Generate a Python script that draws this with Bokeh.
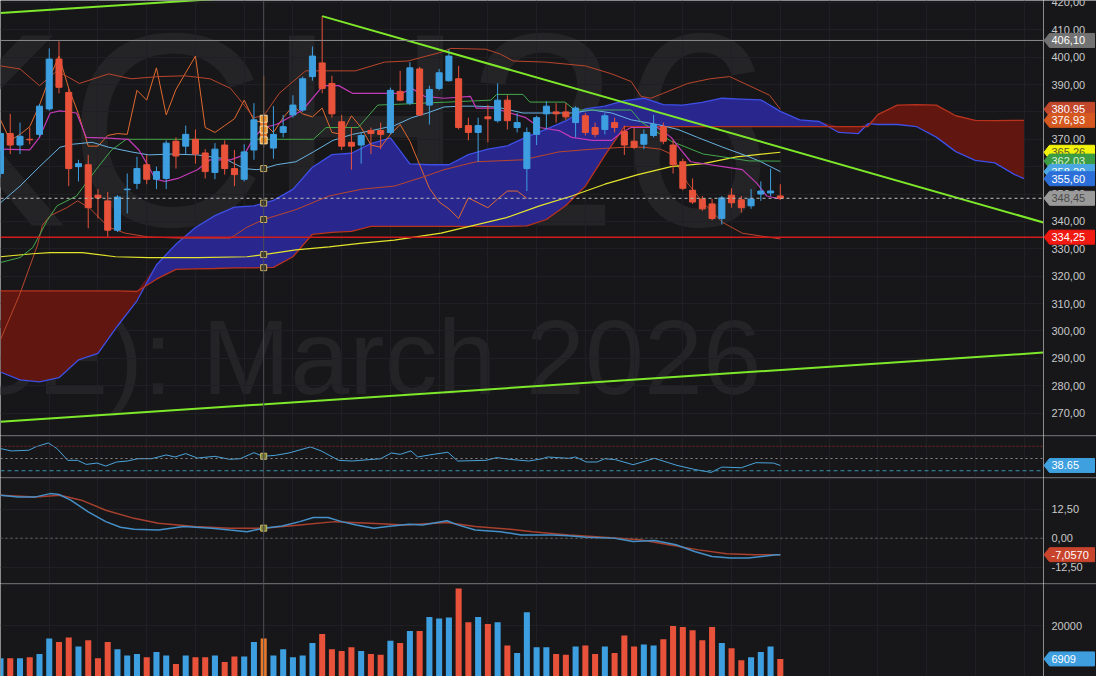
import numpy as np
from bokeh.plotting import figure
from bokeh.layouts import column, row
from bokeh.models import Range1d, FixedTicker, Span
from bokeh.core.properties import value
from bokeh.embed import file_html
from bokeh.resources import INLINE

# ---------------- candles (index 0..80) ----------------
OPEN = [357.5, 372.1, 367.9, 370.0, 371.8, 381.1, 399.3, 387.1, 360.0, 360.7,
        349.6, 347.5, 336.8, 351.6, 353.9, 360.7, 355.4, 355.7, 369.3, 367.5,
        370.0, 365.0, 357.9, 367.9, 359.3, 355.4, 366.1, 377.5, 366.8, 372.5,
        378.9, 380.7, 392.9, 397.9, 390.4, 376.4, 368.9, 367.9, 373.2, 373.2,
        372.5, 387.5, 383.2, 395.7, 382.5, 388.6, 391.4, 392.1, 375.0, 372.5,
        378.2, 376.8, 384.3, 374.3, 359.3, 371.8, 379.3, 380.0, 380.0, 376.1,
        378.6, 374.3, 373.6, 376.1, 372.9, 369.3, 368.2, 371.4, 374.6, 367.9,
        361.8, 351.4, 348.2, 346.4, 341.1, 349.6, 347.9, 345.7, 350.0, 350.4,
        349.3]
HIGH = [373.0, 379.3, 376.1, 374.3, 382.9, 403.2, 405.8, 388.6, 362.5, 364.3,
        351.8, 350.7, 349.6, 357.5, 363.6, 364.3, 360.0, 369.6, 370.7, 375.0,
        373.6, 366.4, 368.6, 369.6, 366.1, 368.2, 383.2, 393.2, 382.1, 378.9,
        386.1, 392.9, 403.9, 415.0, 393.2, 378.9, 374.3, 372.5, 374.3, 376.1,
        388.9, 395.0, 398.2, 396.4, 389.6, 395.7, 402.9, 396.8, 377.9, 377.9,
        382.5, 390.4, 386.1, 379.6, 374.3, 378.6, 383.9, 383.2, 383.2, 382.1,
        379.6, 376.1, 379.6, 377.9, 375.0, 374.3, 373.6, 378.9, 376.1, 369.6,
        362.9, 355.7, 349.3, 348.2, 349.3, 352.1, 349.3, 351.8, 354.6, 359.3,
        353.6]
LOW = [356.0, 364.6, 364.6, 368.2, 370.7, 380.4, 386.8, 352.9, 354.6, 337.5,
       341.1, 334.3, 336.1, 342.9, 351.8, 353.6, 351.8, 351.8, 359.3, 364.6,
       361.1, 355.7, 355.4, 357.1, 352.9, 354.6, 362.5, 367.1, 362.9, 370.7,
       377.9, 380.0, 391.4, 386.8, 377.9, 366.1, 358.9, 361.1, 364.6, 366.4,
       371.8, 383.9, 382.5, 378.6, 375.4, 387.9, 391.1, 373.6, 369.6, 361.8,
       368.9, 376.1, 373.6, 372.5, 351.1, 367.9, 373.6, 376.1, 377.1, 370.7,
       371.4, 370.7, 371.8, 372.5, 364.3, 366.4, 366.4, 370.7, 368.2, 357.5,
       351.4, 346.4, 343.9, 340.4, 338.9, 345.0, 343.2, 344.6, 347.5, 349.3,
       347.9]
CLOSE = [372.1, 367.9, 371.1, 369.8, 382.1, 399.3, 389.0, 359.3, 361.1, 345.0,
         348.6, 336.8, 348.9, 351.8, 359.3, 355.4, 358.2, 368.6, 363.9, 371.8,
         364.6, 358.2, 366.4, 359.3, 357.1, 365.4, 377.1, 369.6, 371.8, 374.6,
         382.5, 392.1, 400.4, 388.6, 379.3, 367.5, 367.5, 371.4, 372.1, 371.8,
         387.9, 384.3, 396.1, 378.9, 388.2, 394.3, 400.4, 374.3, 372.5, 375.0,
         377.5, 384.3, 376.8, 376.1, 372.5, 377.9, 382.1, 379.3, 378.2, 381.4,
         372.5, 371.8, 378.6, 374.3, 367.9, 367.1, 371.8, 375.4, 369.3, 360.7,
         352.1, 347.1, 344.6, 341.1, 348.6, 346.8, 345.0, 348.2, 351.1, 351.1,
         348.45]
VOLUME = [7190, 7190, 7190, 7570, 8880, 14890, 13590, 15300, 11770, 14230,
          7190, 13590, 10720, 8220, 8880, 7570, 9660, 8220, 4960, 8220,
          7570, 7570, 8220, 5740, 7840, 7840, 13590, 14890, 8220, 10720,
          7570, 8220, 13200, 16730, 10720, 10050, 11500, 10050, 8880, 8500,
          14000, 13200, 17920, 17920, 23390, 22740, 23150, 34530, 21310, 23390,
          20650, 21310, 12150, 9270, 25230, 11500, 11500, 8880, 8500, 11770,
          12150, 8880, 11770, 9270, 16080, 11770, 12540, 12150, 14650, 19880,
          19460, 18150, 14230, 19460, 13200, 11110, 6390, 7570, 9660, 11770,
          6909]

# ---------------- overlays on price ----------------
BB_UP_X = [0, 2.0, 4.0, 5.8, 8.1, 11.1, 13.4, 16.2, 18.9, 21.5, 23.6, 25.0, 26.0, 27.0,
           28.6, 31.3, 33.1, 36.4, 39.4, 41.8, 45.2, 46.2, 49.8, 51.3, 52.6, 55.9, 60.0,
           62.7, 64.7, 65.7, 66.7, 68.0, 70.5, 72.8, 74.8, 76.8, 78.9, 80]
BB_UP = [396.8, 395.7, 389.6, 395.0, 390.4, 393.9, 392.1, 392.9, 393.2, 392.1, 388.6, 382.5,
         377.9, 378.6, 386.8, 395.0, 395.0, 395.0, 398.2, 398.6, 401.8, 403.2, 402.9, 401.1,
         398.6, 398.2, 396.8, 393.9, 391.1, 385.7, 385.0, 386.8, 390.4, 392.1, 392.9, 389.6,
         386.1, 380.95]
BB_LO_X = [0, 2.0, 3.8, 4.3, 5.1, 6.8, 7.9, 9.1, 11.1, 12.8, 15.2, 18.5, 23.6, 25.3, 27.0,
           30.3, 33.7, 37.1, 40.4, 43.5, 45.5, 48.8, 53.6, 57.3, 60.7, 64.0, 66.0, 67.7,
           68.8, 70.5, 72.1, 74.1, 76.1, 80]
BB_LO = [296.8, 313.6, 331.4, 338.6, 342.1, 345.0, 347.5, 345.0, 337.9, 335.7, 334.3, 333.9,
         333.9, 337.9, 340.7, 344.3, 349.3, 351.8, 352.9, 356.4, 358.9, 361.8, 362.5, 365.4,
         366.4, 367.1, 367.1, 366.4, 364.6, 353.9, 346.8, 339.6, 335.7, 333.6]
BB_MID_X = [0, 2, 4, 6.1, 7.4, 9.4, 11.1, 13.4, 15.2, 17.5, 20.2, 23, 25, 26.3, 27, 28.3,
            30.3, 32.1, 34.1, 36.1, 38.1, 40.4, 42.2, 43.8, 45.5, 47.2, 48.8, 50.9, 53.6,
            55.9, 58.6, 60.7, 62.7, 64.7, 67.4, 69.5, 71.5, 74.1, 76.8, 78, 80]
BB_MID = [346.8, 352.9, 360.0, 367.1, 368.2, 368.9, 367.1, 365.4, 364.3, 364.6, 364.3,
          362.9, 359.3, 358.9, 359.3, 360.7, 361.8, 365.4, 369.6, 371.8, 373.2, 375.0,
          377.9, 379.6, 381.8, 382.1, 382.1, 381.8, 379.6, 379.6, 379.6, 380.7, 379.6,
          377.1, 375.4, 373.6, 370.7, 367.1, 363.6, 361.8, 358.2]
TENKAN_X = [0, 3.0, 4.0, 5.1, 6.1, 7.8, 8.8, 11.1, 13.1, 14.2, 15.2, 15.9, 16.9, 18.2, 20.2,
            21.5, 23.6, 25.0, 26.0, 27.0, 28.3, 31.0, 33.1, 34.7, 36.1, 41.2, 42.2, 43.5,
            45.5, 48.2, 48.8, 50.6, 53.9, 55.3, 57.3, 58.6, 60.7, 62.7, 63.7, 64.7, 67.4,
            68.8, 69.8, 70.8, 74.1, 76.1, 77.6, 78.6, 80]
TENKAN = [366.4, 366.1, 370.7, 379.6, 380.4, 379.6, 370.7, 370.4, 370.0, 366.1, 360.0,
          355.4, 354.6, 355.7, 358.9, 362.5, 362.5, 364.3, 370.7, 374.3, 375.4, 380.7,
          389.6, 389.6, 386.8, 386.8, 388.6, 385.7, 385.0, 385.7, 381.4, 381.4, 377.9,
          374.3, 373.2, 370.7, 369.6, 369.6, 372.5, 374.3, 374.3, 370.7, 366.1, 361.8,
          360.0, 358.9, 353.9, 349.3, 348.2]
KIJUN_X = [0, 2, 3.3, 4, 4.8, 5.8, 7.8, 9.8, 11.4, 12.9, 31.3, 32.1, 33.4, 36.7, 38.7, 41.5,
           50.3, 50.9, 53.6, 54.3, 57.9, 58.9, 64.7, 65.7, 68.8, 72.1, 73.5, 76.8, 80]
KIJUN = [325.0, 326.8, 330.4, 335.0, 340.4, 345.7, 349.3, 358.9, 366.1, 370.0, 370.0, 370.0,
         374.3, 374.3, 382.5, 382.9, 384.3, 386.4, 386.4, 383.6, 383.6, 380.7, 380.7, 376.4,
         369.3, 364.6, 363.9, 362.1, 362.03]
SMA_LONG_X = [0, 3.3, 5.1, 8.4, 11.8, 15.2, 20.2, 25.3, 27, 30.3, 33.7, 37.1, 40.4, 45.2,
              51.9, 55.3, 58.6, 62, 65.4, 68.8, 72.1, 75.5, 80]
SMA_LONG = [327.1, 328.2, 328.6, 328.6, 327.1, 326.8, 326.8, 327.1, 327.9, 329.6, 330.7,
            332.1, 333.2, 335.7, 341.4, 345.7, 349.3, 353.6, 357.1, 360.0, 361.1, 363.6,
            365.26]

# Ichimoku cloud (leading spans, shifted 26 bars ahead)
CLOUD_X = [0, 2, 4, 6, 8, 10, 12, 14, 16, 18, 20, 22, 24, 26, 28, 30, 32, 34, 36, 38, 40,
           42, 44, 46, 48, 50, 52, 54, 56, 58, 60, 62, 64, 66, 68, 70, 72, 74, 76, 78, 80,
           82, 84, 86, 88, 89, 90, 92, 94, 96, 98, 100, 102, 104, 105]
SPAN_A = [285.0, 282.1, 281.4, 282.9, 289.4, 291.8, 301.8, 311.0, 324.1, 331.7, 337.8,
          342.1, 345.2, 345.7, 347.7, 351.7, 359.8, 364.4, 364.9, 368.4, 370.5, 361.0,
          360.7, 360.7, 364.4, 366.4, 367.6, 370.9, 373.7, 376.7, 381.1, 382.1, 384.1,
          385.0, 382.7, 382.5, 383.5, 385.0, 384.7, 384.4, 380.2, 377.1, 376.5, 372.5,
          372.1, 375.7, 375.4, 375.4, 374.6, 370.8, 365.5, 362.3, 361.4, 357.2, 355.6]
SPAN_B = [314.6, 314.6, 314.6, 314.6, 314.6, 314.6, 314.6, 314.4, 318.9, 322.5, 322.7,
          322.8, 323.0, 323.0, 323.2, 327.1, 335.3, 336.0, 336.4, 338.2, 338.2, 338.2,
          338.2, 338.2, 338.2, 338.2, 338.2, 338.4, 340.7, 345.8, 352.9, 364.1, 374.6,
          374.6, 374.6, 374.6, 374.6, 374.6, 374.6, 374.6, 374.6, 374.6, 374.6, 374.6,
          374.6, 374.6, 379.0, 382.5, 382.7, 382.5, 378.6, 376.9, 376.8, 376.9, 376.93]
CHIKOU_SHIFT = 26

# drawn trend lines and levels
TREND_DOWN_X, TREND_DOWN_Y = [33, 107], [415.0, 339.6]
TREND_UP_X, TREND_UP_Y = [0, 107], [266.8, 292.1]
TREND_TOP_X, TREND_TOP_Y = [0, 30], [416.1, 423.1]
LEVEL_HIGH = 406.10
LEVEL_SUPPORT = 334.25
LAST_PRICE = 348.45
PRICE_TICKS = list(range(270, 430, 10))

# ---------------- lower indicators ----------------
RSI_X = [0, 1.1, 2.9, 3.6, 4.9, 5.8, 6.9, 7.9, 8.8, 9.9, 10.8, 11.9, 13.0, 14.1, 15.5, 17.0,
         17.9, 19.0, 20.2, 22.0, 23.5, 24.6, 26.0, 26.9, 28.2, 29.6, 31.8, 32.9, 34.7, 36.1,
         39.0, 40.1, 41.0, 42.1, 42.8, 44.4, 45.9, 46.9, 49.8, 50.9, 52.4, 54.2, 55.6, 56.1,
         58.3, 59.0, 60.1, 61.2, 62.0, 63.1, 64.9, 67.1, 69.4, 71.2, 72.9, 74.0, 76.0, 77.5,
         79.3, 80.0]
RSI = [66.2, 62.4, 63.5, 68.9, 75.5, 66.2, 47.0, 47.0, 40.4, 42.6, 37.7, 44.3, 45.9, 49.7,
       49.7, 55.8, 52.5, 58.0, 50.8, 53.6, 48.7, 49.7, 59.6, 53.6, 55.2, 59.1, 68.9, 62.4,
       47.0, 45.9, 49.7, 59.1, 56.8, 62.4, 52.5, 56.8, 60.2, 45.9, 47.0, 51.5, 48.4, 45.9,
       49.7, 52.5, 50.3, 52.5, 44.3, 44.3, 49.7, 48.1, 39.9, 50.3, 38.8, 32.2, 27.3, 36.0,
       34.9, 43.2, 42.6, 38.65]
RSI_LEVELS = [70, 50, 30]

MACD_X = [0, 1.8, 3.6, 5.1, 6.0, 7.2, 9.0, 10.8, 12.3, 13.7, 16.2, 18.8, 21.7, 23.5, 25.3,
          27.0, 28.9, 30.7, 32.1, 33.6, 35.0, 36.5, 38.3, 39.7, 41.9, 43.3, 45.8, 46.9, 48.7,
          51.3, 53.4, 56.6, 58.3, 60.1, 63.0, 64.9, 67.1, 69.3, 71.2, 73.0, 74.9, 76.7, 78.1,
          79.6, 80.0]
MACD = [18.4, 17.7, 17.7, 19.1, 18.7, 16.3, 11.3, 7.1, 4.7, 3.8, 3.5, 5.0, 4.3, 3.5, 2.8,
        4.3, 5.2, 7.1, 8.9, 8.9, 7.1, 5.7, 4.3, 5.0, 6.0, 5.7, 7.5, 5.7, 3.5, 2.8, 1.4, 1.4,
        1.0, 0.4, 0.0, -1.4, -1.0, -2.8, -5.7, -7.8, -8.5, -8.5, -7.8, -7.1, -7.1]
SIGNAL_X = [0, 3.6, 6.1, 8.3, 10.8, 13.7, 16.2, 19.9, 23.5, 27.0, 30.7, 34.3, 37.9, 41.5,
            45.8, 48.7, 52.3, 54.6, 58.3, 61.9, 65.6, 68.6, 71.6, 74.5, 77.4, 80.0]
SIGNAL = [18.4, 17.7, 18.4, 16.3, 12.0, 8.5, 6.4, 5.0, 4.3, 4.3, 5.7, 7.1, 6.4, 5.7, 6.7,
          5.0, 3.8, 2.8, 1.4, 0.4, -0.7, -2.8, -5.0, -6.7, -7.1, -7.057]
MACD_TICKS = [-12.5, 0, 12.5]
VOL_TICKS = [20000]

CROSS_I = 27
WM_SYMBOL = "KCH26"
WM_DESC = "Coffee (ICE): March 2026"

# ---------------- styling ----------------
FRAME_W = 1043
STRIP_W = 53
H_MAIN, H_RSI, H_MACD, H_VOL = 435, 42, 106, 93
BG = "#17171a"
GRID = "#202024"
SEP = "#3c3c40"
AXIS_TXT = "#c8c8c8"
FONT = "Liberation Sans"
BLUE = "#3d9fe0"
RED = "#e9523a"
HILITE = "#e8782a"
WM_COLOR = "#242427"

xr = Range1d(0, 107)


def base_fig(width, height, x_range, yr):
    f = figure(width=width, height=height, x_range=x_range, y_range=yr,
               x_axis_location=None, y_axis_location=None, toolbar_location=None,
               output_backend="svg", background_fill_color=BG, border_fill_color=BG,
               outline_line_color=None, min_border_left=0, min_border_right=0,
               min_border_top=0, min_border_bottom=0)
    return f


def make_panel(height, yr, ticks, sep=True):
    f = base_fig(FRAME_W, height, xr, yr)
    f.xgrid.ticker = FixedTicker(ticks=list(range(5, 110, 5)))
    f.xgrid.grid_line_color = GRID
    f.ygrid.ticker = FixedTicker(ticks=ticks)
    f.ygrid.grid_line_color = GRID
    f.add_layout(Span(location=CROSS_I, dimension="height", line_color="#4b4e54", line_width=1))
    s = base_fig(STRIP_W, height, Range1d(0, STRIP_W), yr)
    s.xgrid.grid_line_color = None
    s.ygrid.grid_line_color = None
    if sep:
        for g in (f, s):
            g.add_layout(Span(location=yr.end, dimension="width", line_color=SEP, line_width=2))
    return f, s


def tick_labels(s, ticks, fmt):
    s.text(x=[8] * len(ticks), y=ticks, text=[fmt(t) for t in ticks], text_font=value(FONT),
           text_font_size=value("11px"), text_color=AXIS_TXT, text_baseline="middle",
           text_align="left")


def tag(s, y, text, bg, hh, fg="#ffffff"):
    s.patch([0.5, 6, 51, 51, 6], [y, y + hh, y + hh, y - hh, y - hh], fill_color=bg,
            line_color=bg)
    s.text(x=[8], y=[y], text=[text], text_font=value(FONT), text_font_size=value("11px"),
           text_color=fg, text_baseline="middle", text_align="left")


def comma2(t):
    return f"{t:.2f}".replace(".", ",")


o = np.array(OPEN); h = np.array(HIGH); l = np.array(LOW); c = np.array(CLOSE)
idx = np.arange(len(c))
up = c >= o
colors = np.where(up, BLUE, RED).tolist()
colors[CROSS_I] = HILITE

# ---------------- main price panel ----------------
yr_main = Range1d(261.8, 420.7)
p, ps = make_panel(H_MAIN, yr_main, PRICE_TICKS, sep=False)
hh_main = 7 * (yr_main.end - yr_main.start) / H_MAIN

p.text(x=[79.2], y=[373.6], text=[WM_SYMBOL], text_font=value(FONT),
       text_font_size=value("276px"), text_color=WM_COLOR, text_align="right",
       text_baseline="alphabetic", level="underlay")
p.text(x=[78.1], y=[290.3], text=[WM_DESC], text_font=value(FONT),
       text_font_size=value("106px"), text_color=WM_COLOR, text_align="right",
       text_baseline="alphabetic", level="underlay")

A = np.array(SPAN_A); B = np.array(SPAN_B); top = np.maximum(A, B)
p.varea(x=CLOUD_X, y1=B, y2=top, fill_color="#29278e")
p.varea(x=CLOUD_X, y1=A, y2=top, fill_color="#611710")
p.line(CLOUD_X, SPAN_A, line_color="#3d4fe6", line_width=1.3)
p.line(CLOUD_X, SPAN_B, line_color="#b8321e", line_width=1.3)

p.line(idx[:len(c) - CHIKOU_SHIFT], c[CHIKOU_SHIFT:], line_color="#e2692f", line_width=1)
p.line(BB_UP_X, BB_UP, line_color="#b9462c", line_width=1)
p.line(BB_LO_X, BB_LO, line_color="#b9462c", line_width=1)
p.line(SMA_LONG_X, SMA_LONG, line_color="#e4e42c", line_width=1.2)
p.line(BB_MID_X, BB_MID, line_color="#6ab2e0", line_width=1)
p.line(KIJUN_X, KIJUN, line_color="#44a84c", line_width=1)
p.line(TENKAN_X, TENKAN, line_color="#c23ab6", line_width=1.2)

p.segment(x0=idx, y0=l, x1=idx, y1=h, line_color=colors, line_width=1)
p.vbar(x=idx, top=np.maximum(o, c), bottom=np.minimum(o, c), width=0.62,
       fill_color=colors, line_color=colors, line_width=1)

for lv, col, dash, wd in [(LEVEL_HIGH, "#8a8a8a", "solid", 1), (LEVEL_SUPPORT, "#d21c1c", "solid", 1.5),
                          (LAST_PRICE, "#bdbdbd", "3 3", 1)]:
    p.add_layout(Span(location=lv, dimension="width", line_color=col, line_dash=dash, line_width=wd))

for xs, ys in [(TREND_DOWN_X, TREND_DOWN_Y), (TREND_UP_X, TREND_UP_Y), (TREND_TOP_X, TREND_TOP_Y)]:
    p.line(xs, ys, line_color="#7ee82a", line_width=2)

cand_y = [OPEN[CROSS_I], (OPEN[CROSS_I] + CLOSE[CROSS_I]) / 2, CLOSE[CROSS_I]]
p.scatter([CROSS_I] * 3, cand_y, marker="square", size=7, fill_color="#e8902a", line_color="#f4e0b0")
line_y = [np.interp(CROSS_I, BB_MID_X, BB_MID), np.interp(CROSS_I, CLOUD_X, SPAN_A),
          np.interp(CROSS_I, BB_LO_X, BB_LO), np.interp(CROSS_I, SMA_LONG_X, SMA_LONG),
          np.interp(CROSS_I, CLOUD_X, SPAN_B)]
p.scatter([CROSS_I] * len(line_y), line_y, marker="square", size=6, fill_color="#3a3620",
          line_color="#c9b36a")

tick_labels(ps, PRICE_TICKS, comma2)
tag(ps, LEVEL_HIGH, "406,10", "#727272", hh_main)
tag(ps, BB_UP[-1], "380,95", "#c2482c", hh_main)
tag(ps, SPAN_B[-1], "376,93", "#d4581f", hh_main)
tag(ps, SMA_LONG[-1], "365,26", "#f2f20a", hh_main, "#5c5c30")
tag(ps, KIJUN[-1], "362,03", "#3c9c44", hh_main, "#d8f0d8")
tag(ps, BB_MID[-1], "358,20", "#4aa6e2", hh_main)
tag(ps, SPAN_A[-1], "355,60", "#2d6fd8", hh_main)
tag(ps, LAST_PRICE, "348,45", "#9a9a9a", hh_main, "#4a4a4a")
tag(ps, LEVEL_SUPPORT, "334,25", "#f01a12", hh_main)

# ---------------- RSI ----------------
yr_rsi = Range1d(19.0, 87.6)
pr, prs = make_panel(H_RSI, yr_rsi, [])
for lv, col, dash in zip(RSI_LEVELS, ["#7a2a2a", "#8a8a8a", "#3a93b5"], ["2 2", "2 3", "4 3"]):
    pr.add_layout(Span(location=lv, dimension="width", line_color=col, line_dash=dash, line_width=1))
pr.line(RSI_X, RSI, line_color="#4aa3da", line_width=1)
pr.scatter([CROSS_I], [np.interp(CROSS_I, RSI_X, RSI)], marker="square", size=6,
           fill_color="#7a7a30", line_color="#c9c070")
tag(prs, RSI[-1], "38.65", "#3ea0de", 7 * (yr_rsi.end - yr_rsi.start) / H_RSI)

# ---------------- MACD ----------------
yr_macd = Range1d(-19.4, 26.0)
pm, pms = make_panel(H_MACD, yr_macd, MACD_TICKS)
pm.add_layout(Span(location=0, dimension="width", line_color="#6a6a6a", line_dash="2 3", line_width=1))
pm.line(SIGNAL_X, SIGNAL, line_color="#a8402e", line_width=1.5)
pm.line(MACD_X, MACD, line_color="#4590c8", line_width=1.5)
pm.scatter([CROSS_I], [np.interp(CROSS_I, MACD_X, MACD)], marker="square", size=6,
           fill_color="#7a7a30", line_color="#c9c070")
tick_labels(pms, MACD_TICKS, comma2)
tag(pms, SIGNAL[-1], "-7,0570", "#c8442c", 7 * (yr_macd.end - yr_macd.start) / H_MACD)

# ---------------- Volume ----------------
yr_vol = Range1d(0, 36540)
pv, pvs = make_panel(H_VOL, yr_vol, VOL_TICKS)
pv.vbar(x=idx, top=VOLUME, bottom=0, width=0.62, fill_color=colors, line_color=None)
tick_labels(pvs, VOL_TICKS, lambda t: f"{t:.0f}")
tag(pvs, VOLUME[-1], "6909", "#3e9ede", 7 * (yr_vol.end - yr_vol.start) / H_VOL)

layout = column(row(p, ps, spacing=0), row(pr, prs, spacing=0), row(pm, pms, spacing=0),
                row(pv, pvs, spacing=0), spacing=0)
open("out.html", "w").write(file_html(layout, INLINE, title="KCH26"))
